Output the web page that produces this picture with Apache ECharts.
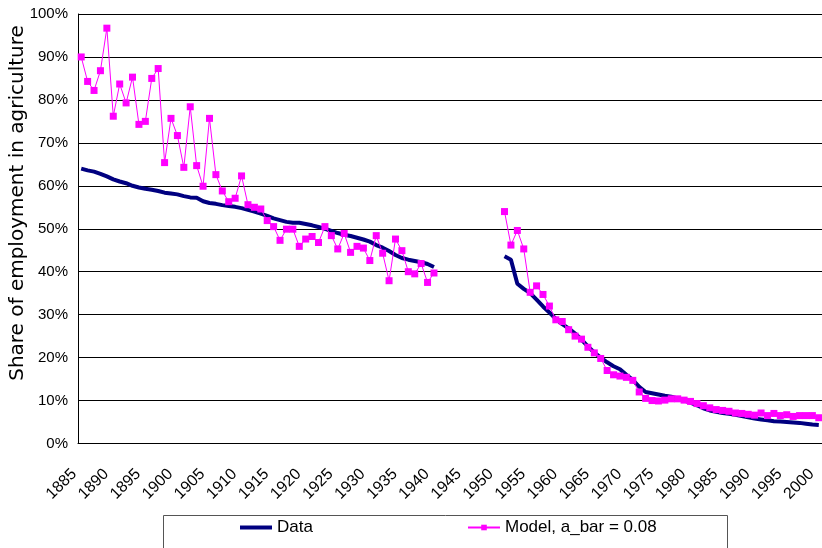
<!DOCTYPE html>
<html>
<head>
<meta charset="utf-8">
<script src="https://cdn.jsdelivr.net/npm/echarts@6/dist/echarts.min.js"></script>
<style>
  html, body { margin: 0; padding: 0; background: #fff; }
  #myChart { width: 822px; height: 548px; }
</style>
</head>
<body>
<div id="myChart"></div>
<script>
// years on the category axis
var years = [
  '1885','1886','1887','1888','1889','1890','1891','1892','1893','1894',
  '1895','1896','1897','1898','1899','1900','1901','1902','1903','1904',
  '1905','1906','1907','1908','1909','1910','1911','1912','1913','1914',
  '1915','1916','1917','1918','1919','1920','1921','1922','1923','1924',
  '1925','1926','1927','1928','1929','1930','1931','1932','1933','1934',
  '1935','1936','1937','1938','1939','1940','1941','1942','1943','1944',
  '1945','1946','1947','1948','1949','1950','1951','1952','1953','1954',
  '1955','1956','1957','1958','1959','1960','1961','1962','1963','1964',
  '1965','1966','1967','1968','1969','1970','1971','1972','1973','1974',
  '1975','1976','1977','1978','1979','1980','1981','1982','1983','1984',
  '1985','1986','1987','1988','1989','1990','1991','1992','1993','1994',
  '1995','1996','1997','1998','1999','2000'
];

// share of employment in agriculture, % (null = no observation)
var dataShare = [
  64.0, 63.6, 63.3, 62.8, 62.2, 61.5, 61.0, 60.6, 60.0, 59.6,
  59.3, 59.1, 58.8, 58.4, 58.2, 58.0, 57.6, 57.3, 57.2, 56.4,
  56.0, 55.8, 55.5, 55.3, 55.1, 54.8, 54.4, 54.0, 53.5, 53.0,
  52.4, 52.0, 51.6, 51.4, 51.4, 51.1, 50.8, 50.4, 50.0, 49.5,
  49.0, 48.6, 48.3, 47.9, 47.5, 47.0, 46.2, 45.6, 44.8, 43.9,
  43.2, 42.8, 42.5, 42.2, 41.8, 41.1, null, null, null, null,
  null, null, null, null, null, null, 43.6, 42.8, 37.2, 36.0,
  35.0, 33.5, 31.9, 30.5, 29.0, 27.8, 26.8, 25.6, 24.2, 22.6,
  21.2, 20.0, 18.9, 18.0, 17.3, 16.0, 14.8, 13.2, 12.0, 11.7,
  11.4, 11.1, 10.9, 10.5, 10.0, 9.5, 8.9, 8.2, 7.7, 7.4,
  7.1, 6.9, 6.7, 6.4, 6.1, 5.8, 5.6, 5.4, 5.2, 5.1,
  5.0, 4.9, 4.8, 4.6, 4.4, 4.3
];

var modelShare = [
  90.0, 84.3, 82.2, 86.8, 96.7, 76.2, 83.7, 79.3, 85.3, 74.3,
  75.0, 85.0, 87.3, 65.4, 75.7, 71.7, 64.3, 78.4, 64.7, 59.9,
  75.7, 62.6, 58.8, 56.3, 57.1, 62.3, 55.6, 55.0, 54.6, 51.9,
  50.5, 47.3, 49.9, 49.9, 45.9, 47.6, 48.2, 46.8, 50.5, 48.4,
  45.3, 48.9, 44.5, 45.9, 45.5, 42.6, 48.4, 44.3, 37.9, 47.6,
  44.9, 40.0, 39.5, 41.9, 37.5, 39.7, null, null, null, null,
  null, null, null, null, null, null, 54.0, 46.2, 49.6, 45.3,
  35.2, 36.7, 34.7, 32.0, 28.8, 28.4, 26.5, 25.0, 24.3, 22.4,
  21.1, 19.8, 17.0, 16.0, 15.7, 15.4, 14.7, 12.0, 10.5, 10.0,
  9.9, 10.1, 10.4, 10.4, 10.1, 9.8, 9.3, 8.8, 8.3, 7.9,
  7.7, 7.5, 7.1, 7.0, 6.8, 6.6, 7.1, 6.5, 7.0, 6.5,
  6.7, 6.3, 6.5, 6.5, 6.5, 6.0
];

var font = '"Liberation Sans", Arial, sans-serif';

var chartDom = document.getElementById('myChart');
var myChart = echarts.init(chartDom);
var option;

option = {
  animation: false,
  backgroundColor: '#fff',
  grid: {
    left: 78,
    top: 14,
    width: 746,
    height: 429.5
  },
  xAxis: {
    type: 'category',
    data: years,
    boundaryGap: true,
    axisLine: { lineStyle: { color: '#000', width: 1 } },
    axisTick: { inside: true, length: 4, interval: 4, lineStyle: { color: '#000' } },
    axisLabel: {
      interval: 4,
      rotate: 45,
      margin: 21,
      padding: [0, 10, 0, 0],
      color: '#000',
      fontFamily: font,
      fontSize: 16,
      hideOverlap: false
    },
    splitLine: { show: false }
  },
  yAxis: {
    type: 'value',
    min: 0,
    max: 100,
    interval: 10,
    axisLine: { show: true, lineStyle: { color: '#000', width: 1 } },
    axisTick: { show: false },
    axisLabel: {
      formatter: '{value}%',
      margin: 10,
      color: '#000',
      fontFamily: font,
      fontSize: 15
    },
    splitLine: { lineStyle: { color: '#000', width: 1 } }
  },
  legend: [
    {
      data: [{ name: 'Data', icon: 'rect' }],
      left: 240,
      top: 519,
      padding: 0,
      itemWidth: 32,
      itemHeight: 4,
      textStyle: { color: '#000', fontFamily: font, fontSize: 17 }
    },
    {
      data: ['Model, a_bar = 0.08'],
      left: 467,
      top: 519,
      padding: 0,
      itemWidth: 32,
      itemHeight: 7,
      textStyle: { color: '#000', fontFamily: font, fontSize: 17 }
    }
  ],
  graphic: [
    {
      type: 'rect',
      left: 163,
      top: 515,
      z: -1,
      shape: { width: 564, height: 40 },
      style: { fill: '#fff', stroke: '#555', lineWidth: 1 }
    },
    {
      type: 'text',
      x: 18,
      y: 203,
      rotation: Math.PI / 2,
      style: {
        text: 'Share of employment in agriculture',
        fill: '#000',
        font: '20px "DejaVu Sans"',
        align: 'center',
        verticalAlign: 'middle'
      }
    }
  ],
  series: [
    {
      name: 'Data',
      type: 'line',
      data: dataShare,
      showSymbol: false,
      symbol: 'none',
      connectNulls: false,
      lineStyle: { color: '#000080', width: 4 },
      itemStyle: { color: '#000080' },
      z: 2
    },
    {
      name: 'Model, a_bar = 0.08',
      type: 'line',
      data: modelShare,
      symbol: 'rect',
      symbolSize: 7,
      showAllSymbol: true,
      connectNulls: false,
      lineStyle: { color: '#ff00ff', width: 1 },
      itemStyle: { color: '#ff00ff' },
      z: 3
    }
  ]
};

option && myChart.setOption(option);
</script>
</body>
</html>
